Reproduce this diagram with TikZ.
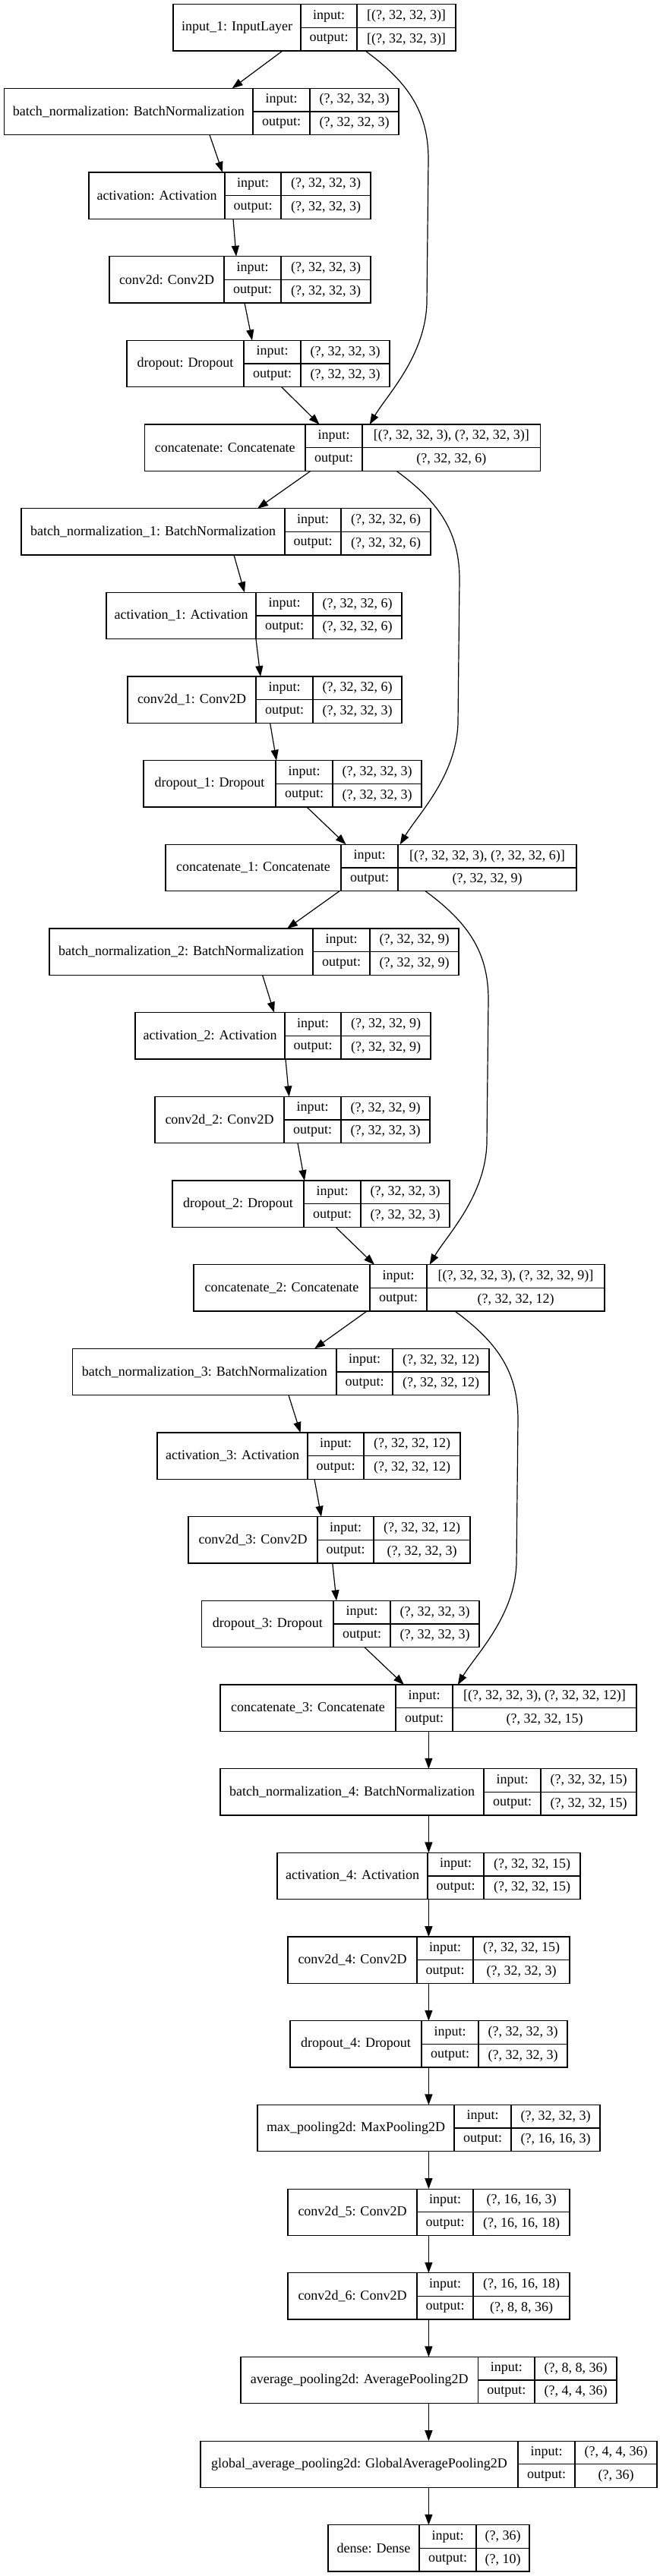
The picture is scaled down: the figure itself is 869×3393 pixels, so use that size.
\documentclass[tikz,border=0pt]{standalone}
\usepackage{fontspec}
\setmainfont{Liberation Serif}
\usetikzlibrary{arrows.meta}
\tikzstyle{layer}=[draw, line width=1.3pt, minimum height=61.3pt, inner sep=0pt, outer sep=0pt, anchor=north west]
\tikzstyle{cell}=[inner sep=0pt, font=\fontsize{18}{20}\selectfont]
\tikzstyle{edge}=[-{Triangle[length=14pt,width=10pt]}, line width=1.2pt]

\begin{document}
\begin{tikzpicture}[x=1pt, y=1pt]

   \useasboundingbox[fill=white] (0,0) rectangle (869,-3393);

    % one record per layer: index / name / cell borders / label / input / output
    \foreach \i/\nm/\xa/\xb/\xc/\xd/\lab/\inp/\outp in {
      0/input1/228/396/470/600/{input\_1: InputLayer}/{[(?, 32, 32, 3)]}/{[(?, 32, 32, 3)]},
      1/bn0/5.5/333/408/525/{batch\_normalization: BatchNormalization}/{(?, 32, 32, 3)}/{(?, 32, 32, 3)},
      2/act0/117/296/370/488/{activation: Activation}/{(?, 32, 32, 3)}/{(?, 32, 32, 3)},
      3/conv0/144/295/370/488/{conv2d: Conv2D}/{(?, 32, 32, 3)}/{(?, 32, 32, 3)},
      4/drop0/167/321/396/513/{dropout: Dropout}/{(?, 32, 32, 3)}/{(?, 32, 32, 3)},
      5/cat0/190.5/402/477/711.7/{concatenate: Concatenate}/{[(?, 32, 32, 3), (?, 32, 32, 3)]}/{(?, 32, 32, 6)},
      6/bn1/28/375/449/567/{batch\_normalization\_1: BatchNormalization}/{(?, 32, 32, 6)}/{(?, 32, 32, 6)},
      7/act1/140/337/412/529/{activation\_1: Activation}/{(?, 32, 32, 6)}/{(?, 32, 32, 6)},
      8/conv1/168/337/412/529/{conv2d\_1: Conv2D}/{(?, 32, 32, 6)}/{(?, 32, 32, 3)},
      9/drop1/189/363/438/555/{dropout\_1: Dropout}/{(?, 32, 32, 3)}/{(?, 32, 32, 3)},
      10/cat1/218/449/524/759/{concatenate\_1: Concatenate}/{[(?, 32, 32, 3), (?, 32, 32, 6)]}/{(?, 32, 32, 9)},
      11/bn2/65/412/487/604/{batch\_normalization\_2: BatchNormalization}/{(?, 32, 32, 9)}/{(?, 32, 32, 9)},
      12/act2/178/375/449/567/{activation\_2: Activation}/{(?, 32, 32, 9)}/{(?, 32, 32, 9)},
      13/conv2/204/374/449/566/{conv2d\_2: Conv2D}/{(?, 32, 32, 9)}/{(?, 32, 32, 3)},
      14/drop2/227/400/475/592/{dropout\_2: Dropout}/{(?, 32, 32, 3)}/{(?, 32, 32, 3)},
      15/cat2/255/487/562/796/{concatenate\_2: Concatenate}/{[(?, 32, 32, 3), (?, 32, 32, 9)]}/{(?, 32, 32, 12)},
      16/bn3/95.6/443/517/644/{batch\_normalization\_3: BatchNormalization}/{(?, 32, 32, 12)}/{(?, 32, 32, 12)},
      17/act3/207/405/479/606/{activation\_3: Activation}/{(?, 32, 32, 12)}/{(?, 32, 32, 12)},
      18/conv3/248/418/492/619/{conv2d\_3: Conv2D}/{(?, 32, 32, 12)}/{(?, 32, 32, 3)},
      19/drop3/265.6/439/514/631/{dropout\_3: Dropout}/{(?, 32, 32, 3)}/{(?, 32, 32, 3)},
      20/cat3/290/521/596/838/{concatenate\_3: Concatenate}/{[(?, 32, 32, 3), (?, 32, 32, 12)]}/{(?, 32, 32, 15)},
      21/bn4/290/637/712/838/{batch\_normalization\_4: BatchNormalization}/{(?, 32, 32, 15)}/{(?, 32, 32, 15)},
      22/act4/365/563/637/764/{activation\_4: Activation}/{(?, 32, 32, 15)}/{(?, 32, 32, 15)},
      23/conv4/379/549/623/750/{conv2d\_4: Conv2D}/{(?, 32, 32, 15)}/{(?, 32, 32, 3)},
      24/drop4/382/555/630/747/{dropout\_4: Dropout}/{(?, 32, 32, 3)}/{(?, 32, 32, 3)},
      25/maxpool/339/598/673/790/{max\_pooling2d: MaxPooling2D}/{(?, 32, 32, 3)}/{(?, 16, 16, 3)},
      26/conv5/379/549/623/750/{conv2d\_5: Conv2D}/{(?, 16, 16, 3)}/{(?, 16, 16, 18)},
      27/conv6/379/549/623/750/{conv2d\_6: Conv2D}/{(?, 16, 16, 18)}/{(?, 8, 8, 36)},
      28/avgpool/317/629.5/704/812/{average\_pooling2d: AveragePooling2D}/{(?, 8, 8, 36)}/{(?, 4, 4, 36)},
      29/gap/264/682/757/865/{global\_average\_pooling2d: GlobalAveragePooling2D}/{(?, 4, 4, 36)}/{(?, 36)},
      30/dense/432/552/627/697/{dense: Dense}/{(?, 36)}/{(?, 10)}}
    {
      \pgfmathsetmacro\y{5.7+110.67*\i}
      \pgfmathsetmacro\w{\xd-\xa}
      \node[layer, minimum width=\w pt] (\nm) at (\xa,-\y) {};
      \draw[line width=1.3pt] (\xb,-\y) -- ++(0,-61.3) (\xc,-\y) -- ++(0,-61.3) (\xb,-\y-30.65) -- (\xd,-\y-30.65);
      \node[cell] (\nm-lab) at ({(\xa+\xb)/2},-\y-30.65) {\lab};
      \node[cell] (\nm-ik) at ({(\xb+\xc)/2},-\y-15.3) {input:};
      \node[cell] (\nm-ok) at ({(\xb+\xc)/2},-\y-46) {output:};
      \node[cell] (\nm-iv) at ({(\xc+\xd)/2},-\y-15.3) {\inp};
      \node[cell] (\nm-ov) at ({(\xc+\xd)/2},-\y-46) {\outp};
    }

    % straight connectors
    \foreach \src/\dst/\sx/\ex in {input1/bn0/372/305.6, bn0/act0/276/293, act0/conv0/307/311, conv0/drop0/322/332, drop0/cat0/370.6/420.6,
        cat0/bn1/409/339, bn1/act1/308/322, act1/conv1/337/343, conv1/drop1/355.6/364, drop1/cat1/404/455.6,
        cat1/bn2/447/378, bn2/act2/345.6/361, act2/conv2/376/380.6, conv2/drop2/392/401, drop2/cat2/442/493,
        cat2/bn3/483/414, bn3/act3/380/395.6, act3/conv3/414/423, conv3/drop3/437.8/443, drop3/cat3/480/532,
        cat3/bn4/564.4/564.4, bn4/act4/564.4/564.4, act4/conv4/564.4/564.4, conv4/drop4/564.4/564.4, drop4/maxpool/564.4/564.4,
        maxpool/conv5/564.4/564.4, conv5/conv6/564.4/564.4, conv6/avgpool/564.4/564.4, avgpool/gap/564.4/564.4, gap/dense/564.4/564.4}
        \draw[edge] (\sx,0 |- \src.south) -- (\ex,0 |- \dst.north);

    % skip connections into the concatenates
    \foreach \src/\dst/\sx/\ex in {input1/cat0/481/486.7, cat0/cat1/522/526.7, cat1/cat2/560/565.6, cat2/cat3/599/602.8}
        \draw[edge] (\sx,0 |- \src.south) .. controls +(59,-43) and +(0,60) .. ++(83,-143) -- ++(-2,-189) .. controls +(-2,-70) and +(23,39) .. (\ex,0 |- \dst.north);

\end{tikzpicture}
\end{document}
